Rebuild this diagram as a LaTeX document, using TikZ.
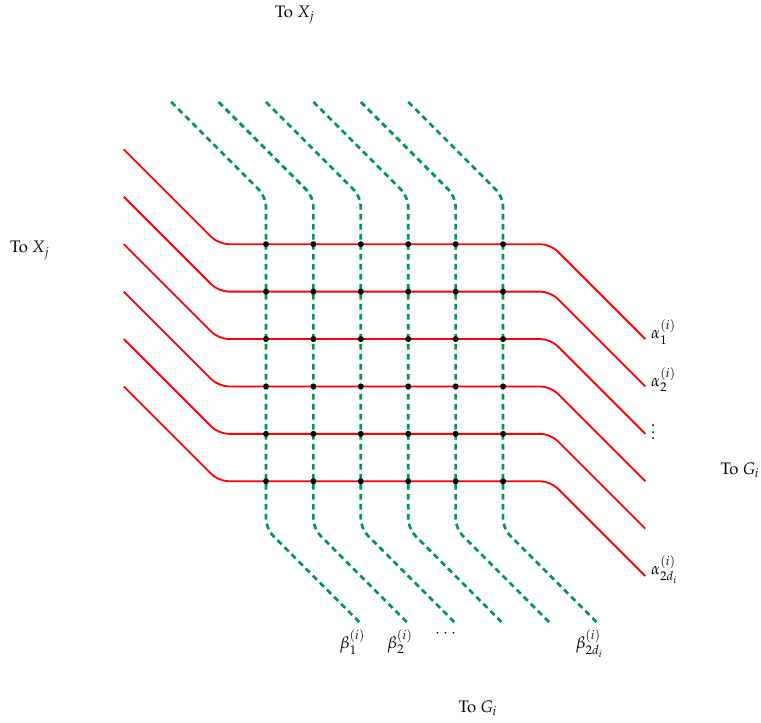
\documentclass[tikz,border=0pt]{standalone}
\usepackage[T1]{fontenc}
\usepackage{mathpazo}
\definecolor{verdefio}{RGB}{0,150,80}
\begin{document}
\begin{tikzpicture}[
    alfa/.style={red, line width=1.1pt, rounded corners=6pt},
    beta/.style={verdefio, line width=1.6pt, dash pattern=on 3.5pt off 2.5pt, rounded corners=6pt},
    ponto/.style={fill=black}
  ]
    \useasboundingbox (-5.61,5.15) rectangle (10.44,-10.08);

    % Fios vermelhos (alfa)
    \foreach \j in {0,...,5} {
        \draw[alfa] (-3,2-\j) -- (-1,-\j) -- (6,-\j) -- (8,-2-\j) coordinate (a\j);
    }

    % Fios verdes tracejados (beta)
    \foreach \i in {0,...,5} {
        \draw[beta] (\i-2,3) -- (\i,1) -- (\i,-6) -- (\i+2,-8) coordinate (b\i);
    }

    % Cruzamentos
    \foreach \i in {0,...,5}
        \foreach \j in {0,...,5}
            \fill[ponto] (\i,-\j) circle (1.8pt);

    % Rotulos dos fios
    \node[right, yshift=4pt] (alfa1) at (a0) {$\alpha_1^{(i)}$};
    \node[right, yshift=4pt] (alfa2) at (a1) {$\alpha_2^{(i)}$};
    \node[right, yshift=4pt] (alfav) at (a2) {$\vdots$};
    \node[right, yshift=4pt] (alfan) at (a5) {$\alpha_{2d_i}^{(i)}$};
    \node[below, xshift=-5pt] (beta1) at (b0) {$\beta_1^{(i)}$};
    \node[below, xshift=-5pt] (beta2) at (b1) {$\beta_2^{(i)}$};
    \node[below, xshift=-6pt] (betac) at (b2) {$\cdots$};
    \node[below, xshift=-5pt] (betan) at (b5) {$\beta_{2d_i}^{(i)}$};

    % Destinos
    \node (xtopo) at (0.61, 4.83) {To $X_j$};
    \node (xesq) at (-4.98, -0.13) {To $X_j$};
    \node (gdir) at (10.0, -4.77) {To $G_i$};
    \node (gbaixo) at (4.47, -9.79) {To $G_i$};
\end{tikzpicture}
\end{document}
